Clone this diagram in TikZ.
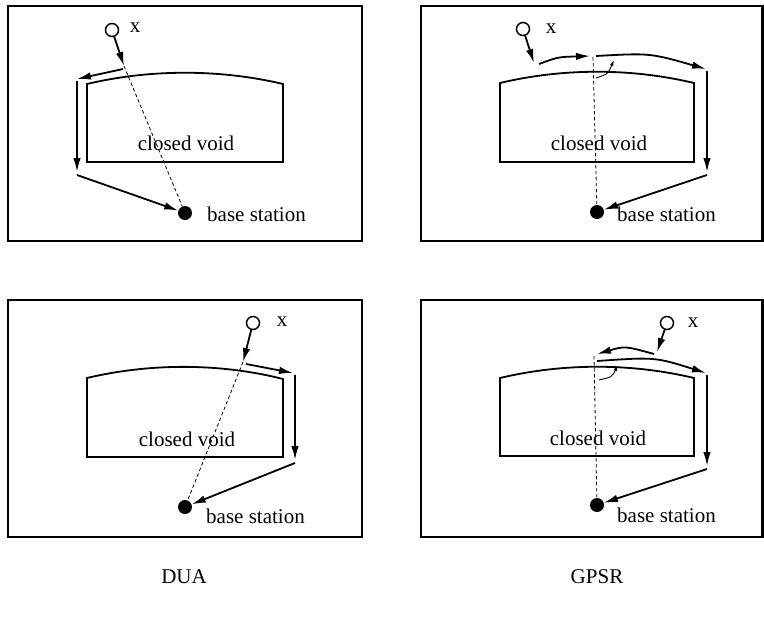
\documentclass[tikz,border=0pt]{standalone}
\usepackage{fontspec}
\setmainfont{Liberation Serif}
\usetikzlibrary{arrows.meta}
\tikzset{
  panel/.style={draw, line width=2.2pt},
  voidshape/.style={draw, line width=1.8pt},
  src/.style={circle, draw, line width=1.5pt, minimum size=13pt, inner sep=0pt},
  bs/.style={circle, fill, minimum size=14pt, inner sep=0pt},
  hop/.style={line width=1.8pt, -{Latex[length=14pt,width=7.5pt]}},
  ray/.style={line width=0.8pt, dash pattern=on 3.5pt off 2.5pt},
  angarrow/.style={line width=0.9pt, -{Latex[length=6pt,width=3.5pt]}},
  lbl/.style={font=\fontsize{21}{24}\selectfont, inner sep=0pt},
}
\begin{document}
\begin{tikzpicture}[x=1pt,y=-1pt]
\useasboundingbox (0,0) rectangle (764,624);

% ---------------- Panel 1 (DUA, top) ----------------
\draw[panel] (8,6) rectangle (362,241);
\draw[voidshape] (87,162) -- (87,84) .. controls (150,69) and (220,69) .. (283,84) -- (283,162) -- cycle;
\node[src] (s1) at (112,30) {};
\node[lbl] (x1) at (135,28) {x};
\coordinate (a1) at (124,66);
\coordinate (b1) at (123,69);
\coordinate (c1) at (77,79);
\coordinate (d1) at (77,81);
\coordinate (e1) at (77,172);
\coordinate (f1) at (77,175);
\node[bs] (bs1) at (185,213) {};
\node[lbl, anchor=west] (bt1) at (207,214) {base station};
\node[lbl] (v1) at (186,143) {closed void};
\draw[hop] (s1) -- (a1);
\draw[hop] (b1) -- (c1);
\draw[hop] (d1) -- (e1);
\draw[hop] (f1) -- (bs1);
\draw[ray] (a1) -- (bs1);

% ---------------- Panel 2 (GPSR, top) ----------------
\draw[panel] (421,6) rectangle (762.5,241);
\draw[voidshape] (500,162) -- (500,83) .. controls (563,68) and (631,68) .. (694,83) -- (694,162) -- cycle;
\node[src] (s2) at (523,29) {};
\node[lbl] (x2) at (551,29) {x};
\coordinate (a2) at (534,63);
\coordinate (b2) at (539,64);
\coordinate (c2) at (590,56);
\coordinate (d2) at (596,56);
\coordinate (e2) at (706,69);
\coordinate (f2) at (707,71);
\coordinate (g2) at (707,172);
\coordinate (h2) at (707,175);
\coordinate (r2) at (593,57);
\coordinate (k2) at (596,78);
\coordinate (m2) at (614,60);
\node[bs] (bs2) at (597,212) {};
\node[lbl, anchor=west] (bt2) at (617,214) {base station};
\node[lbl] (v2) at (599,143) {closed void};
\draw[hop] (s2) -- (a2);
\draw[hop] (b2) .. controls (558,57) .. (c2);
\draw[hop] (d2) .. controls (650,53) .. (e2);
\draw[hop] (f2) -- (g2);
\draw[hop] (h2) -- (bs2);
\draw[ray] (r2) -- (bs2);
\draw[angarrow] (k2) .. controls (608,74) .. (m2);

% ---------------- Panel 3 (DUA, bottom) ----------------
\draw[panel] (8,300) rectangle (362,537);
\draw[voidshape] (87,457) -- (87,378) .. controls (150,363) and (220,363) .. (283,379) -- (283,457) -- cycle;
\node[src] (s3) at (253,323) {};
\node[lbl] (x3) at (282,322) {x};
\coordinate (a3) at (243,362);
\coordinate (b3) at (246,364);
\coordinate (c3) at (293,373);
\coordinate (d3) at (295,375);
\coordinate (e3) at (295,460);
\coordinate (f3) at (295,463);
\node[bs] (bs3) at (185,507) {};
\node[lbl, anchor=west] (bt3) at (206,516) {base station};
\node[lbl] (v3) at (187,439) {closed void};
\draw[hop] (s3) -- (a3);
\draw[hop] (b3) -- (c3);
\draw[hop] (d3) -- (e3);
\draw[hop] (f3) -- (bs3);
\draw[ray] (a3) -- (bs3);

% ---------------- Panel 4 (GPSR, bottom) ----------------
\draw[panel] (421,300) rectangle (762.5,537);
\draw[voidshape] (500,456) -- (500,378) .. controls (563,363) and (631,363) .. (694,378) -- (694,456) -- cycle;
\node[src] (s4) at (667,323) {};
\node[lbl] (x4) at (693,323) {x};
\coordinate (a4) at (657,352);
\coordinate (b4) at (654,354);
\coordinate (c4) at (597,354);
\coordinate (d4) at (597,361);
\coordinate (e4) at (706,373);
\coordinate (f4) at (707,375);
\coordinate (g4) at (707,466);
\coordinate (h4) at (707,469);
\coordinate (r4) at (594,356);
\coordinate (k4) at (599,380);
\coordinate (m4) at (618,365);
\node[bs] (bs4) at (597,505) {};
\node[lbl, anchor=west] (bt4) at (617,515) {base station};
\node[lbl] (v4) at (598,438) {closed void};
\draw[hop] (s4) -- (a4);
\draw[hop] (b4) .. controls (625,346) .. (c4);
\draw[hop] (d4) .. controls (655,357) .. (e4);
\draw[hop] (f4) -- (g4);
\draw[hop] (h4) -- (bs4);
\draw[ray] (r4) -- (bs4);
\draw[angarrow] (k4) .. controls (612,377) .. (m4);

% ---------------- Captions ----------------
\node[lbl] (cap1) at (184,577) {DUA};
\node[lbl] (cap2) at (597,577) {GPSR};
\end{tikzpicture}
\end{document}
